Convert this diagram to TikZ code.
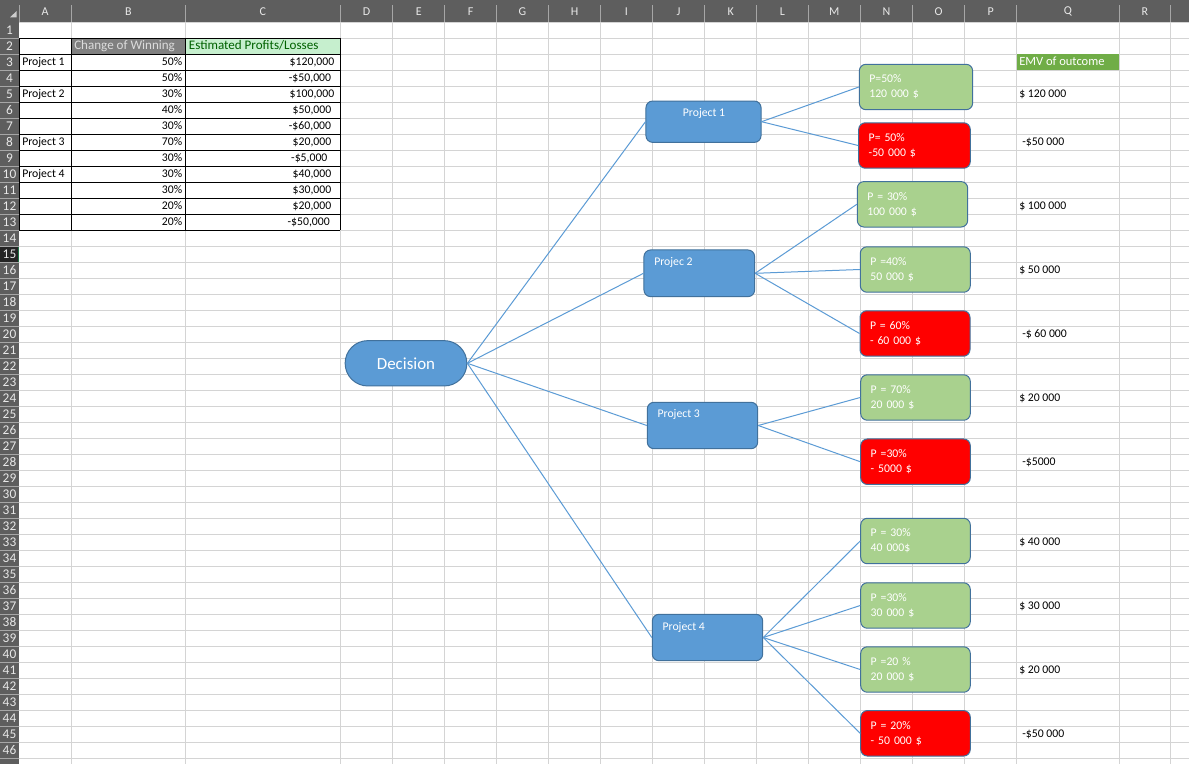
\documentclass[tikz,border=0pt]{standalone}
\usepackage{fontspec}
\setmainfont{Carlito}
\usetikzlibrary{shapes.misc}

\definecolor{hdrbar}{HTML}{5E5E5E}
\definecolor{hdrsel}{HTML}{242424}
\definecolor{hdrtxt}{HTML}{E8E8E8}
\definecolor{hdrsep}{HTML}{A6A6A6}
\definecolor{gridc}{HTML}{D4D4D4}
\definecolor{xlgreen}{HTML}{217346}
\definecolor{greyhead}{HTML}{808080}
\definecolor{greyheadtxt}{HTML}{DCDCDC}
\definecolor{goodfill}{HTML}{C6EFCE}
\definecolor{goodtxt}{HTML}{006100}
\definecolor{boxblue}{HTML}{5B9BD5}
\definecolor{boxedge}{HTML}{41719C}
\definecolor{leafgreen}{HTML}{A9D18E}
\definecolor{leafred}{HTML}{FF0000}
\definecolor{emvhead}{HTML}{70AD47}

\begin{document}
\begin{tikzpicture}[x=0.75pt,y=-0.75pt,
  gridline/.style={draw=gridc,line width=0.75pt},
  sepline/.style={draw=hdrsep,line width=0.75pt},
  border/.style={draw=black,line width=0.75pt},
  hdrlabel/.style={inner sep=0,text=hdrtxt,font=\fontsize{9}{10}\selectfont},
  rowlabel/.style={inner sep=0,text=hdrtxt,font=\fontsize{10}{11}\selectfont},
  cell/.style={inner sep=0,text height=6pt,text depth=1.6pt,font=\fontsize{8.8}{10}\selectfont},
  widecell/.style={cell,font=\fontsize{9.8}{11}\selectfont},
  conn/.style={draw=boxblue,line width=0.75pt},
  projbox/.style={draw=boxedge,fill=boxblue,line width=0.75pt,rounded corners=5pt,inner sep=0},
  projtext/.style={cell,text=white},
  leafbox/.style={draw=boxedge,line width=0.75pt,rounded corners=5pt,
    minimum height=34.1pt,inner xsep=7.5pt,inner ysep=0,text width=67.9pt,
    align=left,text=white,font=\fontsize{8.8}{11.25}\selectfont},
  decisionbox/.style={rounded rectangle,draw=boxedge,fill=boxblue,line width=0.75pt,
    minimum width=91.3pt,minimum height=34pt,inner sep=0,text=white,
    font=\fontsize{12.7}{15}\selectfont}
]
\useasboundingbox (0,0) rectangle (1189,764);
\clip (0,0) rectangle (1189,764);
\fill[white] (0,0) rectangle (1189,764);

% sheet gridlines
\foreach \x in {71.3,185.3,340.3,392.7,444.7,496.7,548.3,600.7,652.3,704.7,756.7,808.3,860.3,912.7,964.7,1016.7,1119,1170.7}
  \draw[gridline] (\x,21.7) -- (\x,764);
\foreach \r in {0,...,46}
  \draw[gridline] (19,{22.3+16*\r}) -- (1189,{22.3+16*\r});

% column header bar
\fill[hdrbar] (0,0) rectangle (1189,21.7);
\fill[hdrbar] (0,21.7) rectangle (19,764);
\fill[hdrtxt!80!hdrbar] (10,17.3) -- (16.7,17.3) -- (16.7,11) -- cycle;
\foreach \x in {19,71.3,185.3,340.3,392.7,444.7,496.7,548.3,600.7,652.3,704.7,756.7,808.3,860.3,912.7,964.7,1016.7,1119,1170.7}
  \draw[sepline] (\x,5) -- (\x,21.7);
\foreach \l/\a/\b in {A/19/71.3,B/71.3/185.3,C/185.3/340.3,D/340.3/392.7,E/392.7/444.7,
    F/444.7/496.7,G/496.7/548.3,H/548.3/600.7,I/600.7/652.3,J/652.3/704.7,K/704.7/756.7,
    L/756.7/808.3,M/808.3/860.3,N/860.3/912.7,O/912.7/964.7,P/964.7/1016.7,Q/1016.7/1119,R/1119/1170.7}
  \node[hdrlabel] (col-\l) at ({(\a+\b)/2},11.5) {\l};

% row header column
\fill[hdrsel] (0,246.3) rectangle (19,262.3);
\draw[xlgreen,line width=1.2pt] (18.4,246.3) -- (18.4,262.3);
\foreach \r in {1,...,46}
  \draw[sepline] (0,{22.3+16*\r}) -- (19,{22.3+16*\r});
\foreach \r in {1,...,46}
  \node[rowlabel] (row-\r) at (9.5,{30.3+16*(\r-1)}) {\r};

% data table
\fill[greyhead] (71.3,38.3) rectangle (185.3,54.3);
\fill[goodfill] (185.3,38.3) rectangle (340.3,54.3);
\foreach \k in {0,...,12}
  \draw[border] (19,{38.3+16*\k}) -- (340.3,{38.3+16*\k});
\foreach \x in {19,71.3,185.3,340.3}
  \draw[border] (\x,38.3) -- (\x,230.3);

\node[widecell,anchor=west,text=greyheadtxt] (hd-b) at (74,46.3) {Change of Winning};
\node[widecell,anchor=west,text=goodtxt] (hd-c) at (188.7,46.3) {Estimated Profits/Losses};

\node[cell,anchor=west] (lab-p1) at (22,62.3) {Project 1};
\node[cell,anchor=west] (lab-p2) at (22,94.3) {Project 2};
\node[cell,anchor=west] (lab-p3) at (22,142.3) {Project 3};
\node[cell,anchor=west] (lab-p4) at (22,174.3) {Project 4};

\foreach \r/\v in {3/50,4/50,5/30,6/40,7/30,8/70,9/30,10/30,11/30,12/20,13/20}
  \node[cell,anchor=east] (pct-\r) at (182.5,{30.3+16*(\r-1)}) {\v\%};
\foreach \r/\v/\c in {3/{\$120,000}/312,4/{-\$50,000}/310,5/{\$100,000}/312,6/{\$50,000}/312,
    7/{-\$60,000}/310,8/{\$20,000}/312,9/{-\$5,000}/309.3,10/{\$40,000}/312,
    11/{\$30,000}/312,12/{\$20,000}/312,13/{-\$50,000}/308.7}
  \node[cell] (val-\r) at (\c,{30.3+16*(\r-1)}) {\v};

% EMV column
\fill[emvhead] (1016.7,54.3) rectangle (1119,70.3);
\node[cell,anchor=west,text=white,font=\fontsize{9.4}{11}\selectfont] (emv-head) at (1019,62.3) {EMV of outcome};
\node[cell,anchor=west] (emv-1) at (1019,94.3) {\$ 120 000};
\node[cell,anchor=west] (emv-2) at (1022,142.3) {-\$50 000};
\node[cell,anchor=west] (emv-3) at (1019,206.3) {\$ 100 000};
\node[cell,anchor=west] (emv-4) at (1019,270.3) {\$ 50 000};
\node[cell,anchor=west] (emv-5) at (1022,334.3) {-\$ 60 000};
\node[cell,anchor=west] (emv-6) at (1019,398.3) {\$ 20 000};
\node[cell,anchor=west] (emv-7) at (1022,462.3) {-\$5000};
\node[cell,anchor=west] (emv-8) at (1019,542.3) {\$ 40 000};
\node[cell,anchor=west] (emv-9) at (1019,606.3) {\$ 30 000};
\node[cell,anchor=west] (emv-10) at (1019,670.3) {\$ 20 000};
\node[cell,anchor=west] (emv-11) at (1022,734.3) {-\$50 000};

% decision tree: root and project branches
\node[decisionbox] (dec) at (406,363.3) {Decision};

\node[projbox,minimum width=86.3pt,minimum height=31pt] (p1) at (703.5,121.7) {};
\node[projbox,minimum width=83pt,minimum height=35pt] (p2) at (699.3,273.3) {};
\node[projbox,minimum width=82.8pt,minimum height=34.8pt] (p3) at (702.5,425.5) {};
\node[projbox,minimum width=82.8pt,minimum height=34.8pt] (p4) at (707.5,637.5) {};
\node[projtext] (p1-t) at (704,114) {Project 1};
\node[projtext,anchor=west] (p2-t) at (654,262.7) {Projec 2};
\node[projtext,anchor=west] (p3-t) at (657.3,415) {Project 3};
\node[projtext,anchor=west] (p4-t) at (662.3,627.3) {Project 4};

% outcome leaves
\node[leafbox,fill=leafgreen,text width=70pt] (l1) at (916,87) {P=50\%\\120 000 \$};
\node[leafbox,fill=leafred,text width=68.7pt] (l2) at (914.5,145.5) {P= 50\%\\-50 000 \$};
\node[leafbox,fill=leafgreen,text width=67.8pt] (l3) at (912.5,204.3) {P = 30\%\\100 000 \$};
\node[leafbox,fill=leafgreen,text width=67.5pt] (l4) at (915.3,269.5) {P =40\%\\50 000 \$};
\node[leafbox,fill=leafred,text width=67.5pt] (l5) at (915,333.5) {P = 60\%\\- 60 000 \$};
\node[leafbox,fill=leafgreen,text width=67.2pt] (l6) at (915.5,397.5) {P = 70\%\\20 000 \$};
\node[leafbox,fill=leafred,text width=67.2pt] (l7) at (915.5,461.7) {P =30\%\\- 5000 \$};
\node[leafbox,fill=leafgreen,text width=67.2pt] (l8) at (915.5,541) {P = 30\%\\40 000\$};
\node[leafbox,fill=leafgreen,text width=67.2pt] (l9) at (915.5,605.5) {P =30\%\\30 000 \$};
\node[leafbox,fill=leafgreen,text width=67.2pt] (l10) at (915.5,669.5) {P =20 \%\\20 000 \$};
\node[leafbox,fill=leafred,text width=67.2pt] (l11) at (915.5,733.3) {P = 20\%\\- 50 000 \$};

% connectors
\foreach \p in {p1,p2,p3,p4}
  \draw[conn] (dec.east) -- (\p.west);
\draw[conn] (p1.east) -- (l1.west);
\draw[conn] (p1.east) -- (l2.west);
\foreach \l in {l3,l4,l5}
  \draw[conn] (p2.east) -- (\l.west);
\foreach \l in {l6,l7}
  \draw[conn] (p3.east) -- (\l.west);
\foreach \l in {l8,l9,l10,l11}
  \draw[conn] (p4.east) -- (\l.west);
\end{tikzpicture}
\end{document}
